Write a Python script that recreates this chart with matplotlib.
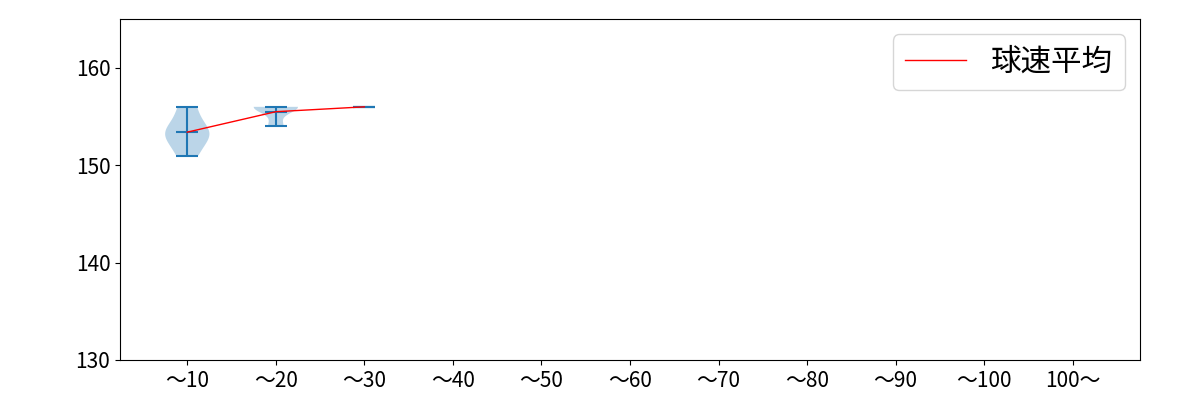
import numpy as np
import matplotlib
matplotlib.use('Agg')
import matplotlib.pyplot as plt
from matplotlib import cbook

plt.rcParams['font.family'] = ['Noto Sans CJK JP', 'DejaVu Sans']

labels = ['〜10', '〜20', '〜30', '〜40', '〜50', '〜60', '〜70', '〜80', '〜90', '〜100', '100〜']
# 球速 per pitch-count bin (later bins have no pitches)
speeds = [
    [151, 153, 153, 154, 156],
    [154, 156, 156, 156],
    [156],
]


def kde(x, coords):
    x = np.asarray(x, dtype=float)
    sd = x.std()
    if sd == 0:
        return np.ones(len(coords))
    bw = sd * len(x) ** (-1 / 5)
    c = np.asarray(coords)[:, None]
    return np.exp(-0.5 * ((c - x[None, :]) / bw) ** 2).sum(axis=1)


positions = np.arange(1, len(labels) + 1)
stats = cbook.violin_stats(speeds, kde)

fig, ax = plt.subplots(figsize=(12, 4), dpi=100)
fig.subplots_adjust(left=0.1, right=0.95, top=0.952, bottom=0.1)

ax.violin(stats, positions=positions[:len(speeds)], showmeans=True, showextrema=True)

means = [np.mean(s) for s in speeds]
ax.plot(positions[:len(means)], means, color='red', linewidth=1, label='球速平均')

ax.set_xticks(positions)
ax.set_xticklabels(labels)
ax.set_xlim(0.24, 11.76)
ax.set_ylim(130, 165)
ax.set_yticks([130, 140, 150, 160])
ax.tick_params(labelsize=15)
ax.legend(loc='upper right', fontsize=22)

fig.savefig('out.png')
